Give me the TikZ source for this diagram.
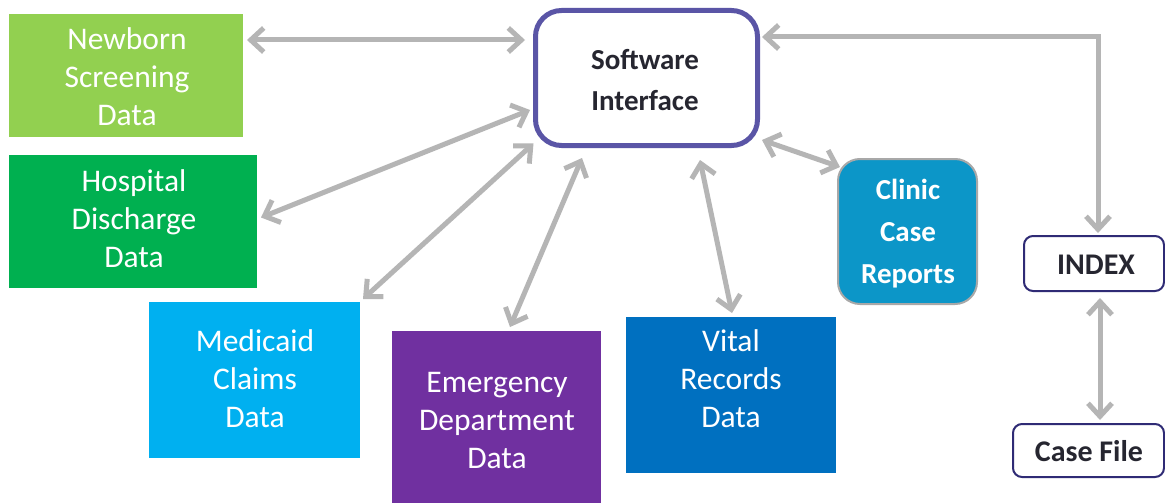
\documentclass[tikz,border=0pt]{standalone}
\usepackage{fontspec}
\setmainfont{Carlito}
\usetikzlibrary{arrows.meta,calc}

\definecolor{nbgreen}{HTML}{92D050}
\definecolor{hdgreen}{HTML}{00B050}
\definecolor{mcblue}{HTML}{00B0F0}
\definecolor{edpurple}{HTML}{7030A0}
\definecolor{vrblue}{HTML}{0070C0}
\definecolor{ccblue}{HTML}{0C96C8}
\definecolor{ccedge}{HTML}{A8A8A8}
\definecolor{swedge}{HTML}{5A55A6}
\definecolor{ixedge}{HTML}{2F2B75}
\definecolor{linkgray}{HTML}{B5B5B5}
\definecolor{darktext}{HTML}{262630}

\tikzset{
  databox/.style={rectangle, inner sep=0pt, outer sep=0pt},
  datatext/.style={align=center, text=white, inner sep=0pt,
    font=\fontsize{31.5}{38}\selectfont},
  hubbox/.style={rectangle, rounded corners=26pt, draw=swedge, line width=5pt,
    fill=white, inner sep=0pt, outer sep=0pt},
  hubtext/.style={align=center, text=darktext, inner sep=0pt,
    font=\bfseries\fontsize{29}{41}\selectfont},
  clinicbox/.style={rectangle, rounded corners=22pt, draw=ccedge, line width=2pt,
    fill=ccblue, inner sep=0pt, outer sep=0pt},
  clinictext/.style={align=center, text=white, inner sep=0pt,
    font=\bfseries\fontsize{29}{42}\selectfont},
  filebox/.style={rectangle, rounded corners=9pt, draw=ixedge, line width=2pt,
    fill=white, inner sep=0pt, outer sep=0pt},
  filetext/.style={text=darktext, inner sep=0pt,
    font=\bfseries\fontsize{30}{32}\selectfont},
  link/.style={draw=linkgray, line width=5pt,
    {Straight Barb[length=13pt,width=24pt]}-{Straight Barb[length=13pt,width=24pt]}},
}

\begin{document}
\begin{tikzpicture}[x=1pt,y=-1pt]
  \useasboundingbox (0,0) rectangle (1165,503);
  \fill[white] (0,0) rectangle (1165,503);

  % data sources
  \node[databox, fill=nbgreen, minimum width=234pt, minimum height=123pt] (nb) at (126,75.5) {};
  \node[datatext] (nbt) at (127,77) {Newborn\\Screening\\Data};

  \node[databox, fill=hdgreen, minimum width=248pt, minimum height=133pt] (hd) at (133,221.5) {};
  \node[datatext] (hdt) at (134,219) {Hospital\\Discharge\\Data};

  \node[databox, fill=mcblue, minimum width=211pt, minimum height=156pt] (mc) at (254.5,380) {};
  \node[datatext] (mct) at (255,379) {Medicaid\\Claims\\Data};

  \node[databox, fill=edpurple, minimum width=209pt, minimum height=172pt] (ed) at (496.5,417) {};
  \node[datatext] (edt) at (497,421) {Emergency\\Department\\Data};

  \node[databox, fill=vrblue, minimum width=210pt, minimum height=156pt] (vr) at (731,395) {};
  \node[datatext] (vrt) at (731,379) {Vital\\Records\\Data};

  % hub
  \node[hubbox, minimum width=222pt, minimum height=135pt] (sw) at (646.5,78) {};
  \node[hubtext] (swt) at (645,80) {Software\\Interface};

  % clinic reports
  \node[clinicbox, minimum width=139pt, minimum height=145pt] (cc) at (907.5,231.5) {};
  \node[clinictext] (cct) at (908,234) {Clinic\\Case\\Reports};

  % index and case file
  \node[filebox, minimum width=140pt, minimum height=55pt] (ix) at (1094,263.5) {};
  \node[filetext] (ixt) at (1096,265) {INDEX};
  \node[filebox, minimum width=151pt, minimum height=53pt] (cf) at (1088.5,450.5) {};
  \node[filetext] (cft) at (1089,451) {Case File};

  % connectors
  \draw[link] ($(nb.north east)+(4,26)$) -- ($(sw.north west)+(-10.5,29.5)$);
  \draw[link] ($(hd.east)+(4,-4)$) -- ($(sw.west)+(-5.5,32)$);
  \draw[link] ($(mc.north east)+(3,-3)$) -- ($(sw.south west)+(-2,-2)$);
  \draw[link] ($(ed.north)+(13.5,-4)$) -- ($(sw.south)+(-64.5,12.5)$);
  \draw[link] ($(sw.south)+(53.5,14.5)$) -- ($(vr.north)+(1,-4)$);
  \draw[link] ($(sw.south east)+(4.5,-5.5)$) -- ($(cc.north west)+(2,8)$);
  \draw[link] ($(sw.north east)+(4.5,26.5)$) -| ($(ix.north)+(4,-3)$);
  \draw[link] ($(ix.south)+(6,7)$) -- ($(cf.north)+(11.5,-4)$);
\end{tikzpicture}
\end{document}
